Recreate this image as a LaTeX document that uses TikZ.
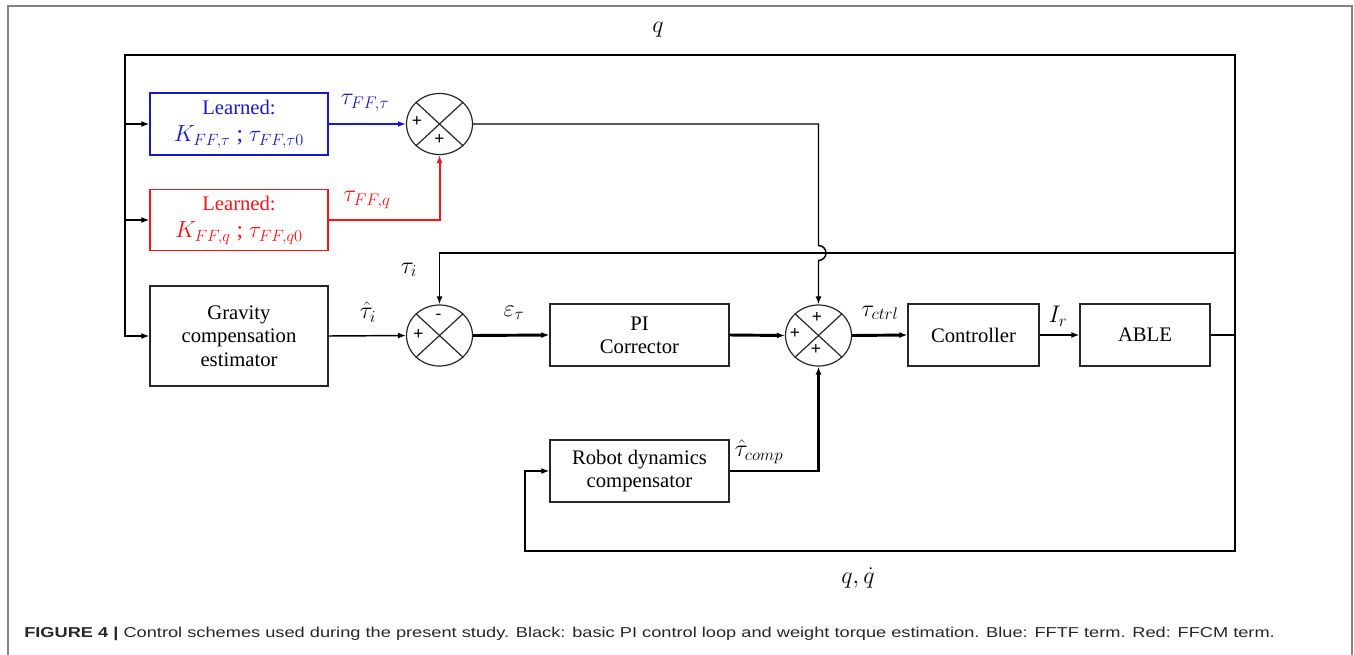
\documentclass[tikz,border=0pt]{standalone}
\usepackage{fix-cm}
\usepackage{graphicx}
\usepackage{fontspec}
\setmainfont{Liberation Serif}
\newfontfamily\signfont{Liberation Sans}
\newfontfamily\capfont{Liberation Sans}
\usetikzlibrary{arrows.meta,shapes.geometric}
\definecolor{ffblue}{RGB}{25,25,200}
\definecolor{ffred}{RGB}{250,20,20}
\definecolor{framegray}{RGB}{130,130,130}

\begin{document}
\begin{tikzpicture}[x=0.75pt,y=-0.75pt,
  every node/.style={font=\fontsize{15.5}{17.5}\selectfont},
  blk/.style={draw=black!85,line width=0.9pt,align=center,inner sep=0pt},
  sumnode/.style={ellipse,draw=black!85,line width=0.9pt,minimum width=49.5pt,minimum height=45.75pt,inner sep=0pt},
  thinln/.style={line width=1.1pt},
  midln/.style={line width=1.5pt},
  thickln/.style={line width=2.2pt},
  tip/.style={-{Latex[length=6pt,width=4.5pt]}},
  sgn/.style={font=\signfont\fontsize{13}{14}\selectfont,inner sep=0pt},
  lbl/.style={inner sep=0pt,font=\fontsize{18}{20}\selectfont},
]
\useasboundingbox (0,0) rectangle (1354,654);

% frame around the figure
\draw[framegray,line width=1.1pt] (8,660) -- (8,6) -- (1352,6) -- (1352,660);

% blocks
\node[blk,draw=ffblue,text=ffblue,minimum width=133.5pt,minimum height=46.5pt] (ffT) at (239,124)
  {Learned:\\[3pt] \fontsize{17.5}{19}\selectfont$K_{FF,\tau}$ ; $\tau_{FF,\tau 0}$};
\node[blk,draw=ffred,text=ffred,minimum width=133.5pt,minimum height=45.75pt] (ffQ) at (239,220)
  {Learned:\\[3pt] \fontsize{17.5}{19}\selectfont$K_{FF,q}$ ; $\tau_{FF,q0}$};
\node[blk,minimum width=133.5pt,minimum height=75pt] (grav) at (239,336)
  {Gravity\\compensation\\estimator};
\node[blk,minimum width=134.25pt,minimum height=46.5pt] (pi) at (639.5,335) {PI\\Corrector};
\node[blk,minimum width=98.25pt,minimum height=46.5pt] (ctrl) at (973.5,335) {Controller};
\node[blk,minimum width=97.5pt,minimum height=46.5pt] (able) at (1145,335) {ABLE};
\node[blk,minimum width=134.25pt,minimum height=46.5pt] (rdc) at (639.5,471) {Robot dynamics\\compensator};

% summing junctions
\node[sumnode] (s1) at (439.5,124) {};
\node[sumnode] (s2) at (439.5,335.5) {};
\node[sumnode] (s3) at (818.5,335.5) {};
\foreach \s in {s1,s2,s3}{
  \draw[black!85,line width=0.9pt] (\s.north west) -- (\s.south east);
  \draw[black!85,line width=0.9pt] (\s.north east) -- (\s.south west);
}
\node[sgn] (s1a) at (417,121) {+};
\node[sgn] (s1b) at (439.5,139) {+};
\node[sgn] (s2a) at (438.5,316.5) {-};
\node[sgn] (s2b) at (418.5,334.5) {+};
\node[sgn] (s3a) at (817,317.5) {+};
\node[sgn] (s3b) at (795,333.5) {+};
\node[sgn] (s3c) at (816,349.5) {+};

% loop corners
\coordinate (tL) at (125,55);
\coordinate (tR) at (1235,55);
\coordinate (jR) at (1235,335);
\coordinate (jT) at (1235,253);
\coordinate (bR) at (1235,551);
\coordinate (bL) at (525,551);
\coordinate (hopT) at (818.5,245.5);

% joint position feedback to the learned and gravity blocks
\draw[thickln,tip] (able.east) -- (jR) -- (tR) -- (tL) |- (grav.west);
\draw[midln,tip] (tL |- ffT.west) -- (ffT.west);
\draw[midln,tip] (tL |- ffQ.west) -- (ffQ.west);

% measured torque feedback
\draw[thinln,tip] (jT) -| (s2.north);

% feedforward terms
\draw[midln,ffblue,tip] (ffT.east) -- (s1.west);
\draw[midln,ffred,tip] (ffQ.east) -| (s1.south);
\draw[thinln,tip] (s1.east) -| (hopT) arc[start angle=-90,end angle=90,radius=7.5] -- (s3.north);

% main forward path
\draw[thinln,tip] (grav.east) -- (s2.west);
\draw[thickln,tip] (s2.east) -- (pi.west);
\draw[thickln,tip] (pi.east) -- (s3.west);
\draw[thickln,tip] (s3.east) -- (ctrl.west);
\draw[thinln,tip] (ctrl.east) -- (able.west);

% dynamics compensation loop
\draw[thickln,tip] (jR) -- (bR) -- (bL) |- (rdc.west);
\draw[thickln,tip] (rdc.east) -| (s3.south);

% signal labels
\node[lbl] (lq) at (658,30) {$q$};
\node[lbl,text=ffblue] (lfft) at (365,103) {$\tau_{FF,\tau}$};
\node[lbl,text=ffred] (lffq) at (367,200) {$\tau_{FF,q}$};
\node[lbl] (lti) at (409,270) {$\tau_i$};
\node[lbl] (lhti) at (368,312) {$\hat{\tau}_i$};
\node[lbl] (leps) at (514,313) {$\varepsilon_\tau$};
\node[lbl] (lctl) at (880,313) {$\tau_{ctrl}$};
\node[lbl] (lir) at (1058,316) {$I_r$};
\node[lbl] (lcmp) at (759,452) {$\hat{\tau}_{comp}$};
\node[lbl] (lqd) at (858,578) {$q,\dot{q}$};

% caption
\node[anchor=base west,inner sep=0pt] (cap) at (24,637)
  {\resizebox{938pt}{7.8pt}{\capfont\color{black!85}\textbf{FIGURE 4 |} Control schemes used during the present study. Black: basic PI control loop and weight torque estimation. Blue: FFTF term. Red: FFCM term.}};
\end{tikzpicture}
\end{document}
